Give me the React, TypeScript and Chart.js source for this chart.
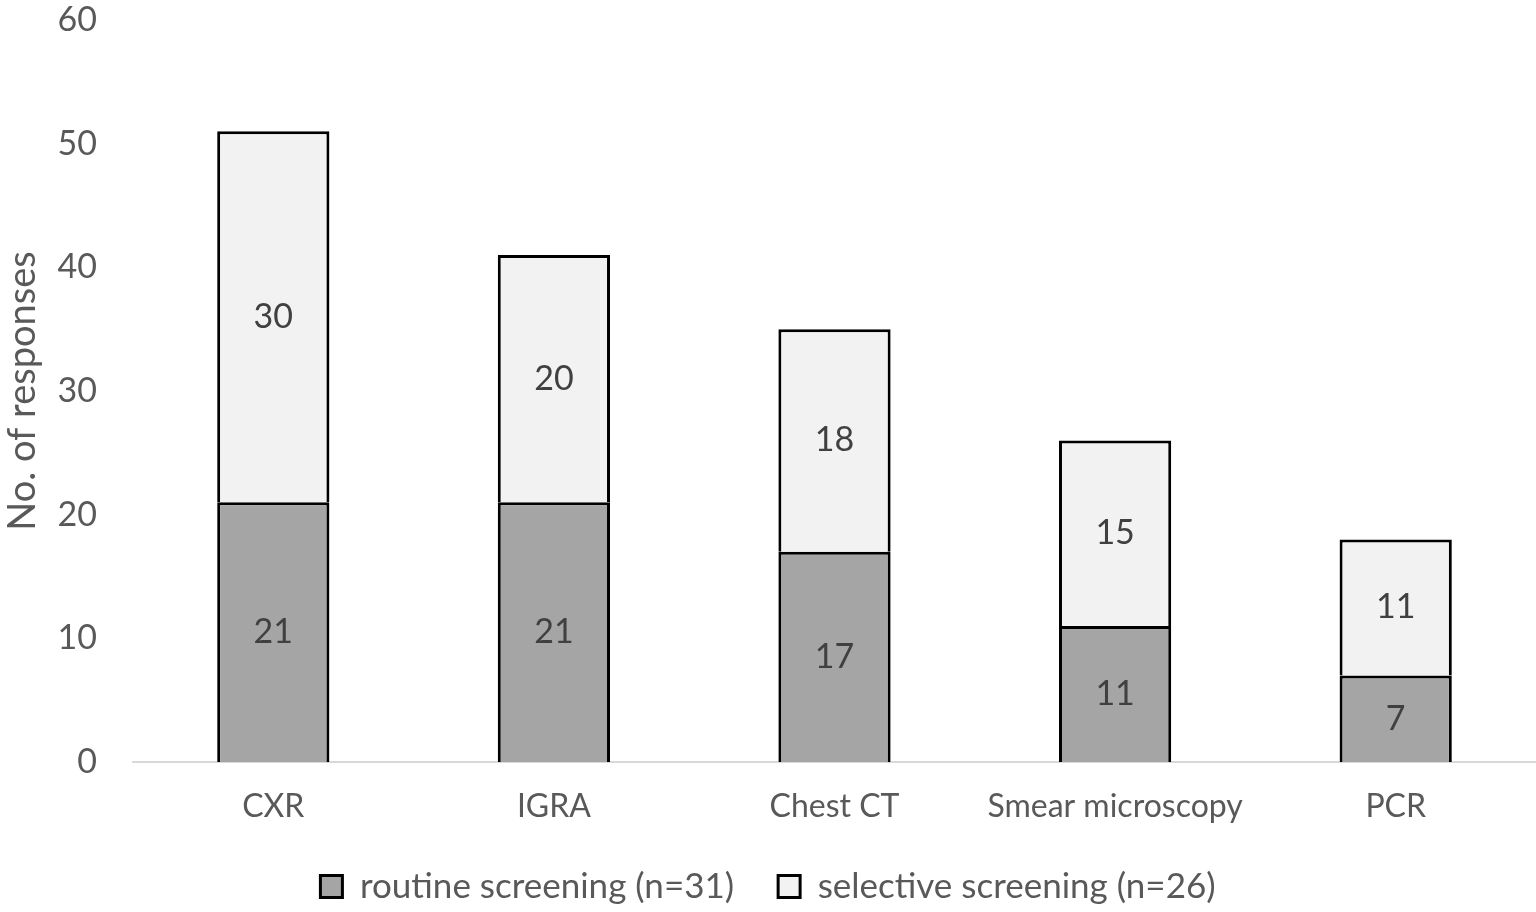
import React, { useEffect, useRef } from "react";
import { Chart, registerables } from "chart.js";

Chart.register(...registerables);

const categories = ["CXR", "IGRA", "Chest CT", "Smear microscopy", "PCR"];
const routineValues = [21, 21, 17, 11, 7];
const selectiveValues = [30, 20, 18, 15, 11];
const seriesLabels = ["routine screening (n=31)", "selective screening (n=26)"];
const yTicks = [0, 10, 20, 30, 40, 50, 60];
const yTitle = "No. of responses";

const FONT = "Lato, 'Open Sans', sans-serif";

const valueLabelPlugin = {
  id: "valueLabels",
  afterDatasetsDraw(chart: any) {
    const ctx = chart.ctx;
    ctx.save();
    ctx.font = `34px ${FONT}`;
    ctx.fillStyle = "#404040";
    ctx.textAlign = "center";
    ctx.textBaseline = "middle";
    chart.data.datasets.forEach((ds: any, di: number) => {
      const meta = chart.getDatasetMeta(di);
      meta.data.forEach((bar: any, i: number) => {
        const y = (bar.y + bar.base) / 2;
        ctx.fillText(String(ds.data[i]), bar.x, y);
      });
    });
    ctx.restore();
  },
};

export default function App() {
  const ref = useRef<HTMLCanvasElement | null>(null);
  useEffect(() => {
    document.body.style.margin = "0";
    const chart = new Chart(ref.current as HTMLCanvasElement, {
      type: "bar",
      data: {
        labels: categories,
        datasets: [
          {
            label: seriesLabels[0],
            data: routineValues,
            backgroundColor: "#a5a5a5",
            borderColor: "#000000",
            borderWidth: { top: 3, left: 3, right: 3, bottom: 0 },
            borderSkipped: false,
            barPercentage: 0.4,
            categoryPercentage: 1,
          },
          {
            label: seriesLabels[1],
            data: selectiveValues,
            backgroundColor: "#f2f2f2",
            borderColor: "#000000",
            borderWidth: { top: 3, left: 3, right: 3, bottom: 0 },
            borderSkipped: false,
            barPercentage: 0.4,
            categoryPercentage: 1,
          },
        ],
      },
      options: {
        animation: false,
        responsive: false,
        maintainAspectRatio: false,
        layout: { autoPadding: false, padding: { top: 0, right: 0, left: 0, bottom: -2 } },
        plugins: {
          tooltip: { enabled: false },
          legend: {
            position: "bottom",
            labels: {
              font: { family: FONT, size: 35 },
              color: "#595959",
              boxWidth: 22,
              boxHeight: 22,
              padding: 44,
              generateLabels: (chart: any) =>
                chart.data.datasets.map((ds: any, i: number) => ({
                  text: ds.label,
                  fillStyle: ds.backgroundColor,
                  strokeStyle: "#000000",
                  lineWidth: 3,
                  hidden: false,
                  datasetIndex: i,
                  fontColor: "#595959",
                })),
            },
          },
        },
        scales: {
          x: {
            stacked: true,
            grid: { display: false },
            border: { display: true, color: "#d9d9d9", width: 2 },
            ticks: {
              font: { family: FONT, size: 32 },
              color: "#595959",
              padding: 17,
              maxRotation: 0,
              autoSkip: false,
            },
            afterFit: (axis: any) => {
              axis.height = 63;
              axis.paddingLeft = 0;
              axis.paddingRight = 0;
            },
          },
          y: {
            stacked: true,
            min: 0,
            max: 60,
            afterBuildTicks: (axis: any) => {
              axis.ticks = yTicks.map((v) => ({ value: v }));
            },
            grid: { display: false },
            border: { display: false },
            ticks: {
              font: { family: FONT, size: 34 },
              color: "#595959",
              padding: 28,
            },
            title: {
              display: true,
              text: yTitle,
              font: { family: FONT, size: 38 },
              color: "#595959",
              padding: { top: 0, bottom: 0 },
            },
            afterFit: (axis: any) => {
              axis.width = 133;
              axis.paddingTop = 20;
              axis.paddingBottom = 0;
            },
          },
        },
      },
      plugins: [valueLabelPlugin],
    });
    return () => chart.destroy();
  }, []);
  return (
    <div style={{ position: "absolute", left: 0, top: 0, width: 1536, height: 912, background: "#fff" }}>
      <canvas ref={ref} width={1536} height={912} style={{ width: 1536, height: 912 }} />
    </div>
  );
}
